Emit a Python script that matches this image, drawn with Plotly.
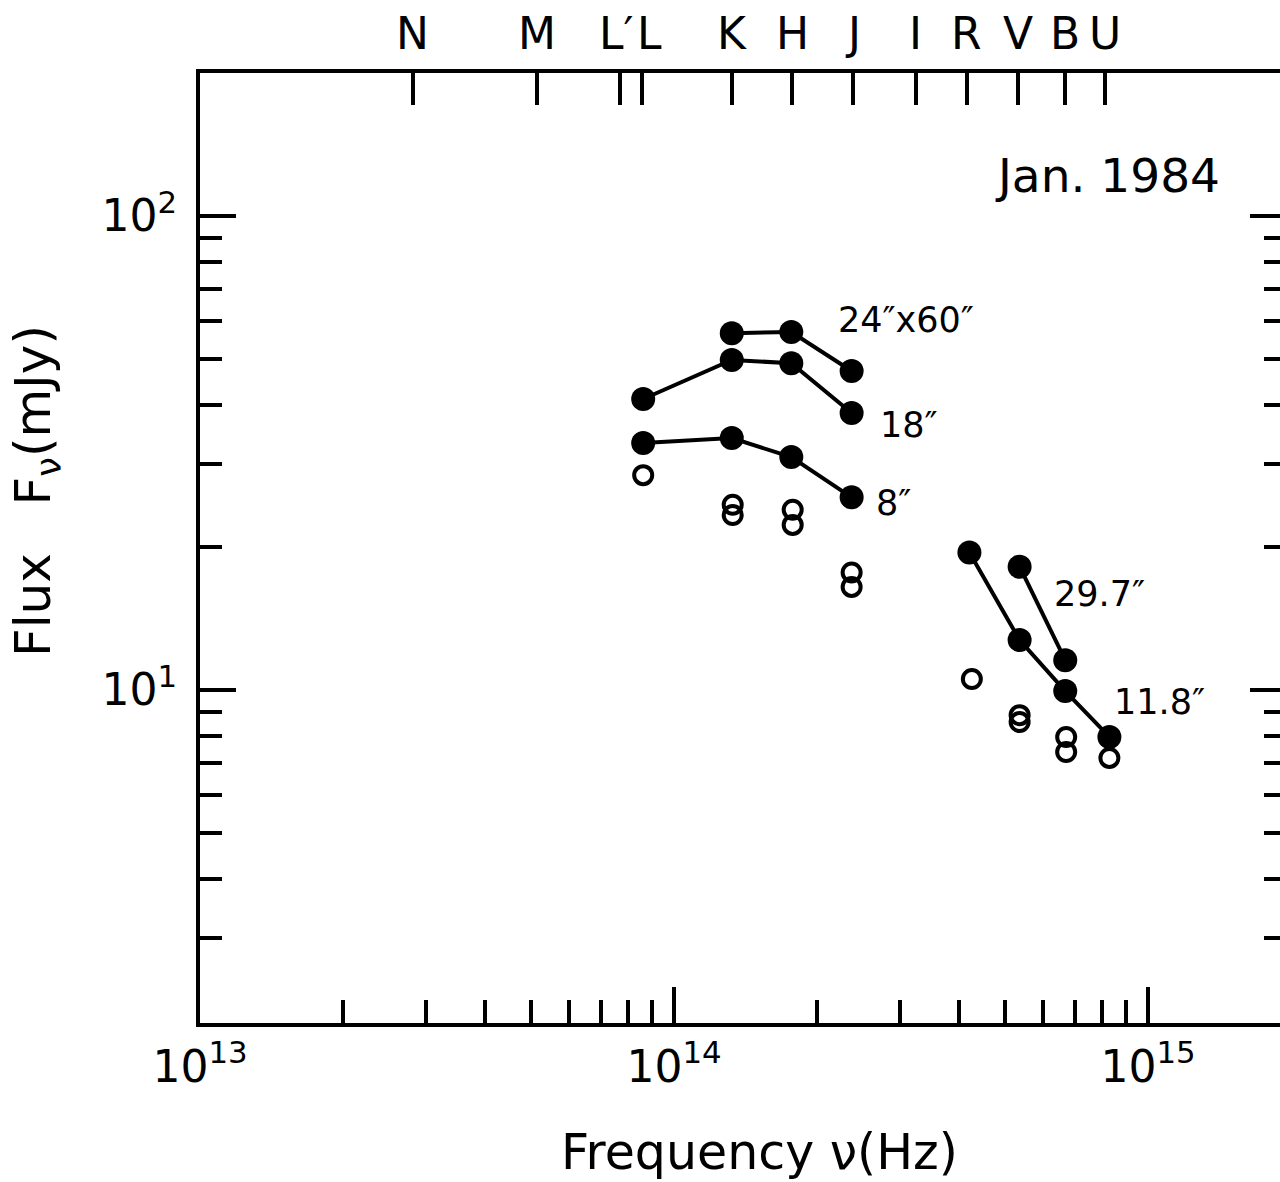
import math
import plotly.graph_objects as go

# ---------------- data ----------------
# photometric band labels (top axis) and their frequencies (Hz)
band_names = ["N", "M", "L\u2032", "L", "K", "H", "J", "I", "R", "V", "B", "U"]
band_nu = [2.81e13, 5.14e13, 7.69e13, 8.55e13, 1.324e14, 1.774e14, 2.387e14,
           3.24e14, 4.15e14, 5.32e14, 6.69e14, 8.11e14]

# infrared photometry (L, K, H, J)
nu_ir = [8.61e13, 1.324e14, 1.768e14, 2.37e14]
f_24x60 = [None, 56.6, 56.9, 47.1]      # 24"x60" aperture
f_18 = [41.1, 49.7, 48.9, 38.4]         # 18" aperture
f_8 = [33.2, 34.0, 31.0, 25.5]          # 8" aperture

# optical photometry (R, V, B, U)
nu_opt = [4.2e14, 5.36e14, 6.69e14, 8.29e14]
f_29_7 = [None, 18.2, 11.56, None]      # 29.7" aperture
f_11_8 = [19.5, 12.75, 9.95, 7.96]      # 11.8" aperture

# open circles (single and paired points)
nu_open = [8.61e13, 1.33e14, 1.78e14, 2.37e14, 4.25e14, 5.36e14, 6.72e14, 8.29e14]
f_open_a = [28.4, 24.6, 24.0, 17.7, 10.55, 8.85, 7.96, 7.19]
f_open_b = [None, 23.4, 22.3, 16.5, None, 8.56, 7.40, None]

# axis ticks
x_major = [1e13, 1e14, 1e15]
x_major_text = ["10<sup>13</sup>", "10<sup>14</sup>", "10<sup>15</sup>"]
x_minor = [m * 10 ** e for e in (13, 14) for m in range(2, 10)]
y_major = [10, 100]
y_major_text = ["10<sup>1</sup>", "10<sup>2</sup>"]
y_minor = [3, 4, 5, 6, 7, 8, 9, 20, 30, 40, 50, 60, 70, 80, 90]

XR = [13.0, 15.2785]
YR = [0.29747, 2.30169]
FONT = "DejaVu Sans, Liberation Sans, Arial, sans-serif"

fig = go.Figure()

line_style = dict(color="black", width=4)
filled = dict(color="black", size=24, line=dict(width=0))


def add_series(x, y):
    fig.add_trace(go.Scatter(x=x, y=y, mode="lines+markers", line=line_style,
                             marker=filled, connectgaps=False,
                             showlegend=False, hoverinfo="skip"))


add_series(nu_ir, f_24x60)
add_series(nu_ir, f_18)
add_series(nu_ir, f_8)
add_series(nu_opt, f_29_7)
add_series(nu_opt, f_11_8)

open_marker = dict(symbol="circle-open", size=18, color="black",
                   line=dict(width=4, color="black"))
fig.add_trace(go.Scatter(x=nu_open, y=f_open_a, mode="markers", marker=open_marker,
                         showlegend=False, hoverinfo="skip"))
fig.add_trace(go.Scatter(x=nu_open, y=f_open_b, mode="markers", marker=open_marker,
                         showlegend=False, hoverinfo="skip"))

# invisible trace so the top / right axes are bound to data
fig.add_trace(go.Scatter(x=nu_opt, y=f_11_8, xaxis="x2", yaxis="y2", mode="markers",
                         marker=dict(opacity=0), showlegend=False, hoverinfo="skip"))

axis_common = dict(type="log", showgrid=False, zeroline=False, ticks="inside",
                   tickcolor="black", tickwidth=4, linecolor="black", linewidth=4,
                   automargin=False, tickangle=0)

fig.update_layout(
    width=1280, height=1182,
    margin=dict(l=200, r=0, t=73, b=159),
    paper_bgcolor="white", plot_bgcolor="white",
    font=dict(family=FONT, color="black"),
    xaxis=dict(**axis_common, range=XR, showline=True, mirror=False,
               tickvals=x_major, ticktext=x_major_text, ticklen=36,
               tickfont=dict(size=44), ticklabelstandoff=2,
               minor=dict(tickvals=x_minor, ticks="inside", ticklen=23,
                          tickwidth=4, tickcolor="black", showgrid=False)),
    xaxis2=dict(**axis_common, range=XR, overlaying="x", side="top", anchor="y",
                showline=True, tickvals=band_nu, showticklabels=False, ticklen=32),
    yaxis=dict(**axis_common, range=YR, showline=True, mirror=False,
               tickvals=y_major, ticktext=y_major_text, ticklen=36,
               tickfont=dict(size=44), ticklabelstandoff=10,
               minor=dict(tickvals=y_minor, ticks="inside", ticklen=22,
                          tickwidth=4, tickcolor="black", showgrid=False)),
    yaxis2=dict(**axis_common, range=YR, overlaying="y", side="right", anchor="x",
                showline=False, showticklabels=False, tickvals=y_major, ticklen=30,
                minor=dict(tickvals=y_minor, ticks="inside", ticklen=16,
                           tickwidth=4, tickcolor="black", showgrid=False)),
)

# band letters above the top axis, one per tick
band_font = dict(family=FONT, size=44, color="black")
for name, nu in zip(band_names, band_nu):
    anchor, shift = "center", 0
    if name == "L\u2032":
        anchor, shift = "right", 15
    elif name == "L":
        anchor, shift = "left", -6
    fig.add_annotation(x=math.log10(nu), y=1, xref="x", yref="paper", text=name,
                       showarrow=False, xanchor=anchor, yanchor="bottom",
                       xshift=shift, yshift=13, font=band_font, borderpad=0)

lab_font = dict(family=FONT, size=35, color="black")


def label(text, nu, f, dx, dy):
    fig.add_annotation(x=math.log10(nu), y=math.log10(f), xref="x", yref="y",
                       text=text, showarrow=False, xanchor="left", yanchor="middle",
                       xshift=dx, yshift=dy, font=lab_font)


label("24\u2033x60\u2033", nu_ir[2], f_24x60[2], 45, 12)
label("18\u2033", nu_ir[3], f_18[3], 26, -12)
label("8\u2033", nu_ir[3], f_8[3], 22, -6)
label("29.7\u2033", nu_opt[2], f_29_7[2], -13, 66)
label("11.8\u2033", nu_opt[3], f_11_8[3], 3, 35)

fig.add_annotation(x=0.9463, y=0.8926, xref="paper", yref="paper", text="Jan. 1984",
                   showarrow=False, xanchor="right", yanchor="middle",
                   font=dict(family=FONT, size=47, color="black"))

fig.add_annotation(x=-0.1509, y=0.56, xref="paper", yref="paper",
                   text="Flux   F<sub>\u03bd</sub>(mJy)", textangle=-90,
                   showarrow=False, xanchor="center", yanchor="middle",
                   font=dict(family=FONT, size=50, color="black"))

fig.add_annotation(x=0.5185, y=-0.1368, xref="paper", yref="paper",
                   text="Frequency \u03bd(Hz)",
                   showarrow=False, xanchor="center", yanchor="middle",
                   font=dict(family=FONT, size=49, color="black"))

fig.write_html("out.html")
